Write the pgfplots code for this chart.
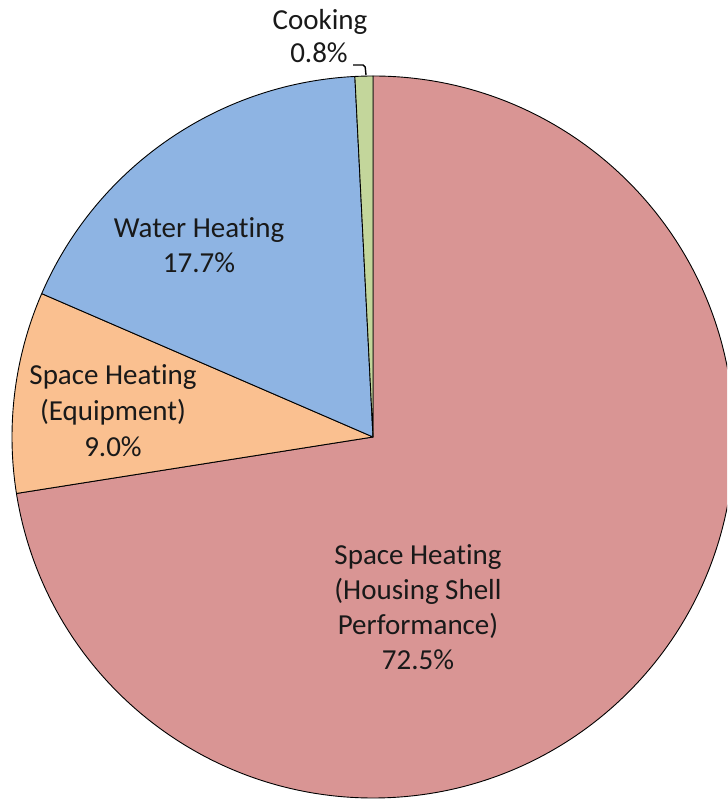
\documentclass[border=0pt]{standalone}
\usepackage{pgfplots}
\pgfplotsset{compat=1.18}
\usepackage{pgfplotstable}
\usepackage{fontspec}
\setmainfont{Carlito}[Ligatures=NoCommon]
\newcommand\ti{t\kern0pt i}
\definecolor{pieRed}{RGB}{217,149,148}
\definecolor{pieOrange}{RGB}{250,192,144}
\definecolor{pieBlue}{RGB}{142,180,227}
\definecolor{pieGreen}{RGB}{195,214,155}
\pgfplotstableread{
share colour
72.5 pieRed
9.0 pieOrange
17.7 pieBlue
0.8 pieGreen
}\piedata
\begin{document}
\begin{tikzpicture}
\begin{axis}[width=727pt,height=799pt,scale only axis,
  xmin=0,xmax=727,ymin=0,ymax=799,hide axis,clip=true]
\path (axis cs:0,0) rectangle (axis cs:727,799);
\def\startang{90}
\pgfplotstablegetrowsof{\piedata}
\pgfmathtruncatemacro\lastrow{\pgfplotsretval-1}
\pgfplotsforeachungrouped \i in {0,...,\lastrow}{%
  \pgfplotstablegetelem{\i}{share}\of\piedata \let\val\pgfplotsretval
  \pgfplotstablegetelem{\i}{colour}\of\piedata \let\col\pgfplotsretval
  \pgfmathsetmacro\endang{\startang-3.6*\val}%
  \edef\temp{\noexpand\filldraw[fill=\col,draw=black,line width=0.9pt,line join=round] (axis cs:373,362) -- ++(\startang:361pt) arc[start angle=\startang,end angle=\endang,radius=361pt] -- cycle;}%
  \temp
  \global\let\startang\endang
}
\tikzset{lbl/.style={anchor=base,inner sep=0pt,font=\fontsize{29}{35}\selectfont,text=black!90}}
\node[lbl] at (axis cs:320,769) {Cooking};
\node[lbl] at (axis cs:319,736) {0.8\%};
\draw[line width=1.4pt,rounded corners=2pt] (axis cs:353,734) -- (axis cs:365,734) -- (axis cs:366,724);
\node[lbl] at (axis cs:199,561) {Water Hea\ti ng};
\node[lbl] at (axis cs:199,526) {17.7\%};
\node[lbl] at (axis cs:113,414) {Space Hea\ti ng};
\node[lbl] at (axis cs:113,378) {(Equipment)};
\node[lbl] at (axis cs:113,342) {9.0\%};
\node[lbl] at (axis cs:418,234) {Space Hea\ti ng};
\node[lbl] at (axis cs:418,199) {(Housing Shell};
\node[lbl] at (axis cs:418,164) {Performance)};
\node[lbl] at (axis cs:418,129) {72.5\%};
\end{axis}
\end{tikzpicture}
\end{document}
